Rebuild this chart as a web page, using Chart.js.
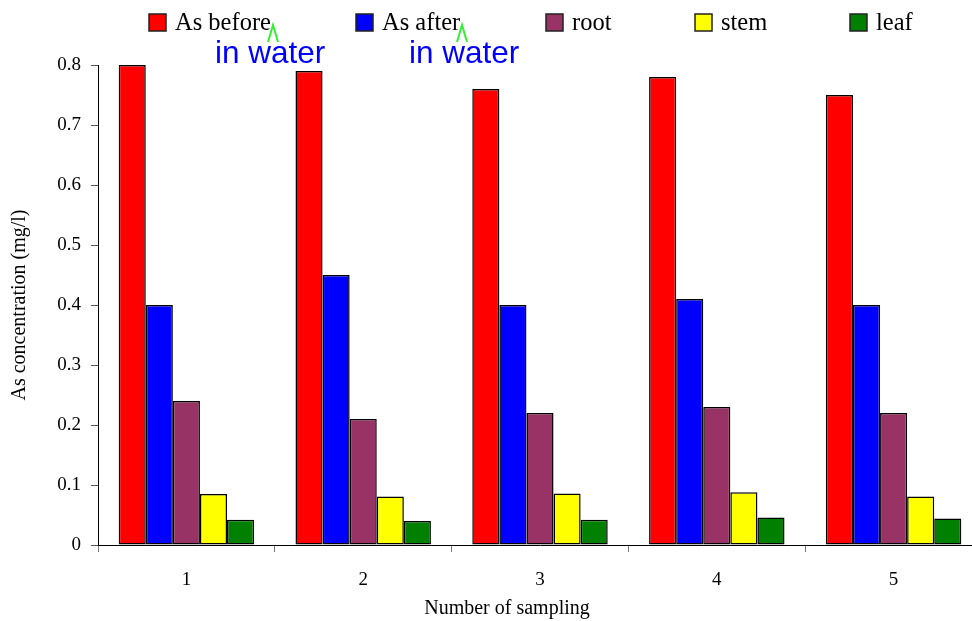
<!DOCTYPE html>
<html>
<head>
<meta charset="utf-8">
<script src="https://cdn.jsdelivr.net/npm/chart.js@4/dist/chart.umd.min.js"></script>
<style>
  html, body { margin: 0; padding: 0; background: #fff; overflow: hidden; }
  #wrap { width: 972px; height: 621px; overflow: hidden; }
  canvas { display: block; }
</style>
</head>
<body>
<div id="wrap"><canvas id="c" width="984" height="621"></canvas></div>
<script>
// Arsenic concentration per sampling round
const categories = ['1', '2', '3', '4', '5'];
const asBefore = [0.80, 0.79, 0.76, 0.78, 0.75];
const asAfter  = [0.40, 0.45, 0.40, 0.41, 0.40];
const root     = [0.24, 0.21, 0.22, 0.23, 0.22];
const stem     = [0.085, 0.081, 0.086, 0.088, 0.081];
const leaf     = [0.042, 0.040, 0.042, 0.046, 0.044];
const seriesNames = ['As before', 'As after', 'root', 'stem', 'leaf'];
const seriesColors = ['#ff0000', '#0000ff', '#993366', '#ffff00', '#008000'];
const yTicks = [0, 0.1, 0.2, 0.3, 0.4, 0.5, 0.6, 0.7, 0.8];
const xTitle = 'Number of sampling';

const serif = "'Liberation Serif', 'Times New Roman', serif";
const sans = "'Liberation Sans', Arial, sans-serif";

const seriesValues = [asBefore, asAfter, root, stem, leaf];
const datasets = seriesValues.map((vals, i) => ({
  label: seriesNames[i],
  data: vals,
  backgroundColor: seriesColors[i],
  borderColor: '#000000',
  borderWidth: 1.5,
  borderSkipped: false,
  barPercentage: 1.0,
  categoryPercentage: 0.766
}));

// Legend row, the x-axis caption and the "in water" notes
const legendAndNotes = {
  id: 'legendAndNotes',
  afterDraw(chart) {
    const ctx = chart.ctx;
    const boxX = [149, 356, 546, 695, 850];
    ctx.save();
    chart.data.datasets.forEach((ds, i) => {
      ctx.fillStyle = ds.backgroundColor;
      ctx.fillRect(boxX[i], 14, 17, 17);
      ctx.lineWidth = 1.5;
      ctx.strokeStyle = '#222';
      ctx.strokeRect(boxX[i], 14, 17, 17);
      ctx.fillStyle = '#000';
      ctx.font = '24.5px ' + serif;
      ctx.textAlign = 'left';
      ctx.textBaseline = 'alphabetic';
      ctx.fillText(ds.label, boxX[i] + 26, 30);
    });
    // x-axis caption
    ctx.font = '20px ' + serif;
    ctx.textAlign = 'center';
    ctx.fillText(xTitle, 507, 614);
    // notes
    ctx.textAlign = 'left';
    ctx.fillStyle = '#0000ff';
    ctx.font = '31.5px ' + sans;
    ctx.fillText('in water', 215, 63);
    ctx.fillText('in water', 409, 63);
    // carets
    ctx.strokeStyle = '#33ee33';
    ctx.lineWidth = 2;
    [[268, 273, 278], [457, 462, 467]].forEach(([a, b, c]) => {
      ctx.beginPath();
      ctx.moveTo(a, 42);
      ctx.lineTo(b, 25);
      ctx.lineTo(c, 42);
      ctx.stroke();
    });
    ctx.restore();
  }
};

new Chart(document.getElementById('c'), {
  type: 'bar',
  data: { labels: categories, datasets },
  options: {
    responsive: false,
    animation: false,
    devicePixelRatio: 1,
    layout: { padding: { top: 65, right: 2, left: 0, bottom: 0 } },
    plugins: {
      legend: { display: false },
      tooltip: { enabled: false }
    },
    scales: {
      x: {
        afterFit(scale) { scale.height = 76; },
        grid: {
          offset: true,
          drawOnChartArea: false,
          drawTicks: true,
          tickLength: 7,
          color: '#777'
        },
        border: { display: true, color: '#000', width: 1 },
        ticks: {
          color: '#000',
          padding: 17,
          font: { family: serif, size: 19 }
        },
        title: { display: false }
      },
      y: {
        min: 0,
        max: 0.8,
        afterFit(scale) { scale.width = 98; },
        afterBuildTicks(scale) { scale.ticks = yTicks.map(v => ({ value: v })); },
        grid: {
          drawOnChartArea: false,
          drawTicks: true,
          tickLength: 7,
          color: '#555'
        },
        border: { display: true, color: '#000', width: 1 },
        ticks: {
          color: '#000',
          padding: 10,
          font: { family: serif, size: 19 },
          callback: v => (v === 0 ? '0' : v.toFixed(1))
        },
        title: {
          display: true,
          text: 'As concentration (mg/l)',
          color: '#000',
          font: { family: serif, size: 20 },
          padding: { top: 8, bottom: 0 }
        }
      }
    }
  },
  plugins: [legendAndNotes]
});
</script>
</body>
</html>
